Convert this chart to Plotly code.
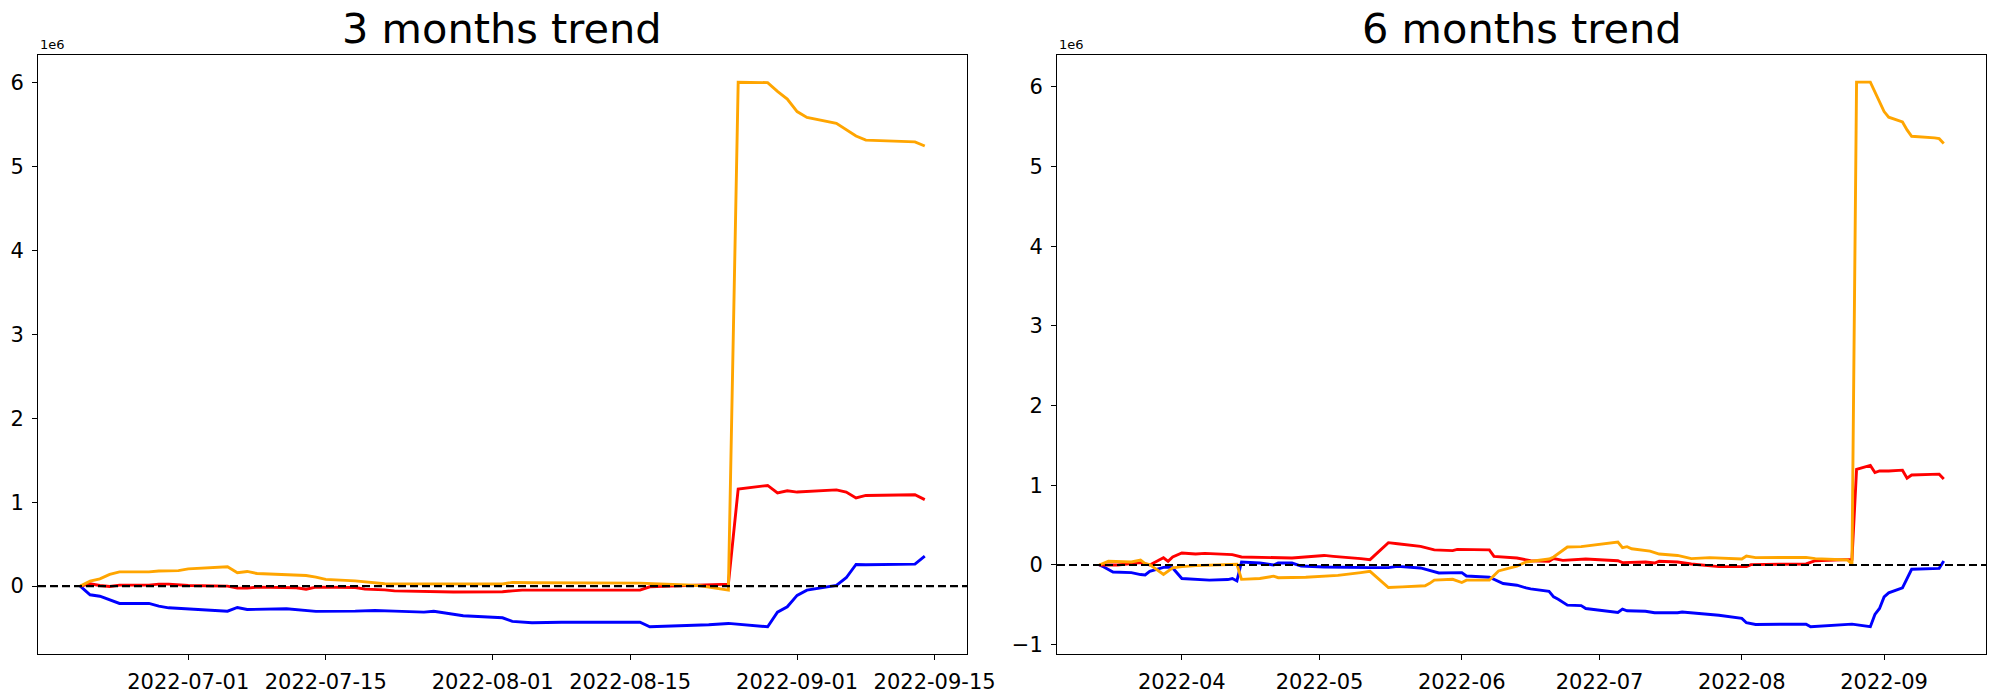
import plotly.graph_objects as go

# ---------------- 3 months panel (values in units of 1e6) ----------------
d3_orange = ["2022-06-20","2022-06-21","2022-06-22","2022-06-23","2022-06-24","2022-06-27","2022-06-28",
             "2022-06-30","2022-07-01","2022-07-05","2022-07-06","2022-07-07","2022-07-08","2022-07-13",
             "2022-07-14","2022-07-15","2022-07-18","2022-07-21","2022-08-02","2022-08-03","2022-08-05",
             "2022-08-16","2022-08-22","2022-08-25","2022-08-26","2022-08-29","2022-08-30","2022-08-31",
             "2022-09-01","2022-09-02","2022-09-05","2022-09-06","2022-09-07","2022-09-08","2022-09-13",
             "2022-09-14"]
v3_orange = [0, 0.06, 0.087, 0.14, 0.17, 0.17, 0.18, 0.185, 0.205, 0.23, 0.16, 0.175, 0.15, 0.127,
             0.107, 0.08, 0.063, 0.028, 0.025, 0.044, 0.04, 0.036, 0.008, -0.048, 6.0, 5.995, 5.89,
             5.80, 5.65, 5.58, 5.51, 5.43, 5.36, 5.31, 5.29, 5.24]

d3_red = ["2022-06-20","2022-06-21","2022-06-22","2022-06-23","2022-06-24","2022-06-27","2022-06-28",
          "2022-06-29","2022-07-01","2022-07-05","2022-07-06","2022-07-07","2022-07-08","2022-07-12",
          "2022-07-13","2022-07-14","2022-07-18","2022-07-19","2022-07-21","2022-07-22","2022-07-28",
          "2022-08-02","2022-08-03","2022-08-04","2022-08-16","2022-08-17","2022-08-25","2022-08-26",
          "2022-08-29","2022-08-30","2022-08-31","2022-09-01","2022-09-05","2022-09-06","2022-09-07",
          "2022-09-08","2022-09-13","2022-09-14"]
v3_red = [0, 0.028, 0.008, -0.004, 0.012, 0.012, 0.024, 0.024, 0.008, 0.0, -0.024, -0.024, -0.012,
          -0.02, -0.036, -0.012, -0.016, -0.036, -0.044, -0.056, -0.07, -0.067, -0.056, -0.048, -0.048,
          -0.008, 0.024, 1.157, 1.199, 1.109, 1.135, 1.12, 1.146, 1.12, 1.05, 1.08, 1.088, 1.03]

d3_blue = ["2022-06-20","2022-06-21","2022-06-22","2022-06-23","2022-06-24","2022-06-27","2022-06-28",
           "2022-06-29","2022-07-01","2022-07-05","2022-07-06","2022-07-07","2022-07-11","2022-07-14",
           "2022-07-18","2022-07-20","2022-07-22","2022-07-25","2022-07-26","2022-07-27","2022-07-29",
           "2022-08-02","2022-08-03","2022-08-05","2022-08-08","2022-08-16","2022-08-17","2022-08-23",
           "2022-08-25","2022-08-29","2022-08-30","2022-08-31","2022-09-01","2022-09-02","2022-09-05",
           "2022-09-06","2022-09-07","2022-09-08","2022-09-13","2022-09-14"]
v3_blue = [0, -0.103, -0.12, -0.16, -0.206, -0.206, -0.238, -0.258, -0.274, -0.298, -0.254, -0.278,
           -0.27, -0.30, -0.298, -0.29, -0.298, -0.31, -0.30, -0.32, -0.353, -0.377, -0.42, -0.436,
           -0.43, -0.43, -0.484, -0.46, -0.444, -0.484, -0.31, -0.246, -0.11, -0.048, 0.008, 0.10,
           0.258, 0.254, 0.262, 0.357]

# ---------------- 6 months panel (values in units of 1e6) ----------------
d6_red = ["2022-03-14","2022-03-18","2022-03-23","2022-03-25","2022-03-28","2022-03-29","2022-03-30",
          "2022-04-01","2022-04-04","2022-04-06","2022-04-12","2022-04-14","2022-04-25","2022-05-02",
          "2022-05-04","2022-05-09","2022-05-10","2022-05-12","2022-05-16","2022-05-18","2022-05-23",
          "2022-05-26","2022-05-30","2022-05-31","2022-06-07","2022-06-08","2022-06-13","2022-06-16",
          "2022-06-20","2022-06-21","2022-06-23","2022-06-28","2022-07-05","2022-07-06","2022-07-11",
          "2022-07-13","2022-07-14","2022-07-18","2022-07-21","2022-07-27","2022-08-02","2022-08-03",
          "2022-08-15","2022-08-17","2022-08-25","2022-08-26","2022-08-29","2022-08-30","2022-08-31",
          "2022-09-02","2022-09-05","2022-09-06","2022-09-07","2022-09-13","2022-09-14"]
v6_red = [0, 0, 0.03, 0, 0.09, 0.045, 0.1, 0.15, 0.137, 0.146, 0.13, 0.1, 0.088, 0.12, 0.108, 0.092,
          0.08, 0.067, 0.28, 0.267, 0.233, 0.19, 0.18, 0.196, 0.19, 0.108, 0.088, 0.054, 0.046, 0.08,
          0.058, 0.075, 0.054, 0.03, 0.038, 0.025, 0.046, 0.038, 0.013, -0.02, -0.02, 0.004, 0.013,
          0.054, 0.07, 1.2, 1.25, 1.16, 1.18, 1.18, 1.19, 1.09, 1.13, 1.14, 1.08]

d6_orange = ["2022-03-14","2022-03-16","2022-03-21","2022-03-23","2022-03-24","2022-03-25","2022-03-28",
             "2022-03-30","2022-04-01","2022-04-04","2022-04-13","2022-04-14","2022-04-18","2022-04-20",
             "2022-04-21","2022-04-22","2022-04-28","2022-05-05","2022-05-09","2022-05-10","2022-05-12",
             "2022-05-16","2022-05-19","2022-05-24","2022-05-25","2022-05-26","2022-05-30","2022-06-01",
             "2022-06-02","2022-06-07","2022-06-09","2022-06-13","2022-06-15","2022-06-20","2022-06-21",
             "2022-06-24","2022-06-27","2022-07-01","2022-07-05","2022-07-06","2022-07-07","2022-07-08",
             "2022-07-12","2022-07-14","2022-07-18","2022-07-21","2022-07-25","2022-08-01","2022-08-02",
             "2022-08-04","2022-08-15","2022-08-17","2022-08-24","2022-08-25","2022-08-26","2022-08-29",
             "2022-08-30","2022-08-31","2022-09-01","2022-09-02","2022-09-05","2022-09-06","2022-09-07",
             "2022-09-12","2022-09-13","2022-09-14"]
v6_orange = [0, 0.046, 0.038, 0.063, 0.017, 0.004, -0.12, -0.037, -0.02, -0.008, 0.008, -0.18, -0.17,
             -0.154, -0.14, -0.16, -0.154, -0.13, -0.108, -0.096, -0.08, -0.283, -0.275, -0.26, -0.23,
             -0.19, -0.18, -0.22, -0.19, -0.19, -0.075, -0.013, 0.038, 0.075, 0.1, 0.225, 0.23, 0.258,
             0.288, 0.217, 0.23, 0.204, 0.175, 0.137, 0.12, 0.08, 0.092, 0.075, 0.113, 0.092, 0.096,
             0.08, 0.063, 0.013, 6.06, 6.06, 5.94, 5.80, 5.69, 5.62, 5.56, 5.46, 5.38, 5.36, 5.35, 5.29]

d6_blue = ["2022-03-14","2022-03-15","2022-03-17","2022-03-21","2022-03-23","2022-03-24","2022-03-25",
           "2022-03-28","2022-03-29","2022-03-30","2022-04-01","2022-04-04","2022-04-06","2022-04-07",
           "2022-04-11","2022-04-12","2022-04-13","2022-04-14","2022-04-18","2022-04-21","2022-04-22",
           "2022-04-25","2022-04-27","2022-05-02","2022-05-12","2022-05-16","2022-05-18","2022-05-23",
           "2022-05-27","2022-05-31","2022-06-01","2022-06-02","2022-06-07","2022-06-10","2022-06-13",
           "2022-06-15","2022-06-16","2022-06-20","2022-06-21","2022-06-22","2022-06-24","2022-06-27",
           "2022-06-28","2022-07-05","2022-07-06","2022-07-07","2022-07-11","2022-07-13","2022-07-18",
           "2022-07-19","2022-07-25","2022-07-27","2022-08-01","2022-08-02","2022-08-04","2022-08-15",
           "2022-08-16","2022-08-23","2022-08-25","2022-08-29","2022-08-30","2022-08-31","2022-09-01",
           "2022-09-02","2022-09-05","2022-09-07","2022-09-13","2022-09-14"]
v6_blue = [0, -0.025, -0.088, -0.096, -0.12, -0.125, -0.08, -0.03, -0.025, -0.037, -0.17, -0.18,
           -0.183, -0.19, -0.183, -0.17, -0.2, 0.038, 0.025, 0.0, 0.025, 0.025, -0.013, -0.025, -0.033,
           -0.033, -0.017, -0.037, -0.1, -0.1, -0.096, -0.138, -0.154, -0.233, -0.254, -0.288, -0.3,
           -0.33, -0.4, -0.43, -0.504, -0.51, -0.546, -0.596, -0.554, -0.575, -0.58, -0.6, -0.6, -0.59,
           -0.617, -0.63, -0.67, -0.725, -0.746, -0.742, -0.775, -0.754, -0.742, -0.775, -0.62, -0.546,
           -0.4, -0.35, -0.288, -0.054, -0.042, 0.05]

# ticks
x3_ticks = ["2022-07-01", "2022-07-15", "2022-08-01", "2022-08-15", "2022-09-01", "2022-09-15"]
x6_ticks = ["2022-04-01", "2022-05-01", "2022-06-01", "2022-07-01", "2022-08-01", "2022-09-01"]
y3_ticks = [0, 1, 2, 3, 4, 5, 6]
y6_ticks = [-1, 0, 1, 2, 3, 4, 5, 6]
titles = ["3 months trend", "6 months trend"]
COLORS = {"blue": "#0000ff", "red": "#ff0000", "orange": "#ffa500"}

W, H = 2000, 700
FONT = "DejaVu Sans"
LW = 2.9

fig = go.Figure()

def add(d, v, color, xa, ya):
    fig.add_trace(go.Scatter(x=d, y=v, mode="lines", line=dict(color=color, width=LW),
                             xaxis=xa, yaxis=ya, showlegend=False, hoverinfo="skip"))

add(d3_blue, v3_blue, COLORS["blue"], "x", "y")
add(d3_red, v3_red, COLORS["red"], "x", "y")
add(d3_orange, v3_orange, COLORS["orange"], "x", "y")
add(d6_blue, v6_blue, COLORS["blue"], "x2", "y2")
add(d6_red, v6_red, COLORS["red"], "x2", "y2")
add(d6_orange, v6_orange, COLORS["orange"], "x2", "y2")

# pixel geometry of the two axes boxes
L1, R1 = 38, 967
L2, R2 = 1057, 1986
TOP, BOT = 55, 654
ydom = [1 - BOT / H, 1 - TOP / H]

axis_common = dict(showgrid=False, zeroline=False, showline=True, linecolor="black", linewidth=1.1,
                   mirror=True, ticks="outside", ticklen=5, tickwidth=1.1, tickcolor="black",
                   automargin=False,
                   tickfont=dict(family=FONT, size=21, color="black"))

fig.update_layout(
    width=W, height=H, margin=dict(l=0, r=0, t=0, b=0, autoexpand=False),
    paper_bgcolor="white", plot_bgcolor="white",
    xaxis=dict(domain=[L1 / W, R1 / W], anchor="y", type="date",
               range=["2022-06-15 16:48", "2022-09-18 07:12"],
               tickvals=x3_ticks, tickformat="%Y-%m-%d", ticklabelstandoff=4, **axis_common),
    yaxis=dict(domain=ydom, anchor="x", range=[-0.808, 6.324],
               tickvals=y3_ticks, ticktext=[str(t) for t in y3_ticks], ticklabelstandoff=4, **axis_common),
    xaxis2=dict(domain=[L2 / W, R2 / W], anchor="y2", type="date",
                range=["2022-03-04 19:12", "2022-09-23 04:48"],
                tickvals=x6_ticks, tickformat="%Y-%m", ticklabelstandoff=4, **axis_common),
    yaxis2=dict(domain=ydom, anchor="x2", range=[-1.117, 6.40],
                tickvals=y6_ticks, ticktext=[str(t).replace("-", "\u2212") for t in y6_ticks],
                ticklabelstandoff=4, **axis_common),
)

# dashed zero lines (axhline) on top of the data
for xr, yr in (("x", "y"), ("x2", "y2")):
    fig.add_shape(type="line", xref=f"{xr} domain", yref=yr, x0=0, x1=1, y0=0, y1=0,
                  line=dict(color="black", width=2.1, dash="8px,4px"), layer="above")

# titles and offset labels
for i, (l, r) in enumerate(((L1, R1), (L2, R2))):
    fig.add_annotation(text=titles[i], xref="paper", yref="paper", x=(l + r) / 2 / W, y=1 - 28 / H,
                       xanchor="center", yanchor="middle", showarrow=False,
                       font=dict(family=FONT, size=41.5, color="black"))
    fig.add_annotation(text="1e6", xref="paper", yref="paper", x=(l + 1) / W, y=1 - 45 / H,
                       xanchor="left", yanchor="middle", showarrow=False, borderpad=0,
                       font=dict(family=FONT, size=13, color="black"))

fig.write_html("out.html", config={"displayModeBar": False},
               post_script="document.body.style.margin='0px';document.body.style.overflow='hidden';")
